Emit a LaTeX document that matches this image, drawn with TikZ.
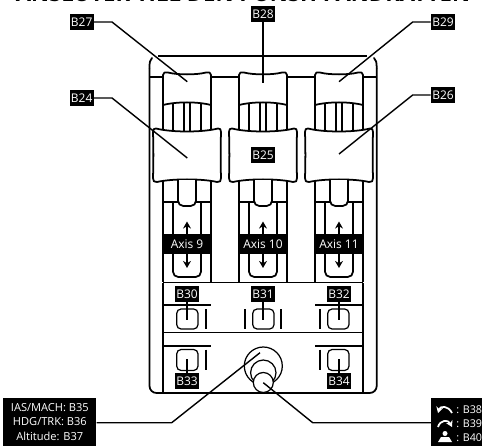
\documentclass[tikz,border=0pt]{standalone}
\usepackage{fontspec}
\setmainfont{Open Sans}
\usetikzlibrary{arrows.meta}
\tikzset{
  tag/.style={fill=black,text=white,font=\fontsize{6.8}{7}\selectfont,minimum width=0.48cm,minimum height=0.32cm,inner sep=0pt},
  axisbar/.style={fill=black,text=white,font=\fontsize{6.8}{7}\selectfont,minimum width=0.96cm,minimum height=0.4cm,inner sep=0pt},
  legend/.style={fill=black,text=white,font=\fontsize{6.3}{8}\selectfont,inner sep=0pt,align=center},
  legendtext/.style={text=white,anchor=west,font=\fontsize{6.1}{8}\selectfont,inner sep=0pt},
  leader/.style={line width=0.8pt},
  outline/.style={line width=1pt,line join=round},
  thin line/.style={line width=0.7pt},
}
\begin{document}
\begin{tikzpicture}[x=0.02cm,y=-0.02cm]
\useasboundingbox (0,0) rectangle (482,446);

% Title, cut by the page
\node (title) [anchor=base,font=\bfseries\fontsize{12.6}{14}\selectfont] at (243,2) {ANSLUTER TILL DEN PUNSH PANDRATTEN};

% Housing
\draw[outline,rounded corners=4pt] (149.5,68) -- (149.5,393) -- (376.7,393) -- (376.7,68);
\draw[outline,line cap=round] (149.5,68) .. controls (149.5,62) and (150,60) .. (152,58);
\draw[outline,line cap=round] (376.7,68) .. controls (376.7,62) and (376,60) .. (374,58);
\draw[outline] (158,56) -- (367,56);
\draw[outline] (150,76.7) -- (376.7,76.7);

% Lower panel
\draw[outline] (163,282.5) -- (163,393);
\draw[outline] (363,282.5) -- (363,393);
\draw[outline] (163,282.5) -- (363,282.5);
\draw[thin line] (163,332.7) -- (363,332.7);

% Sliders
\foreach \cx/\ax in {187/9,263/10,339/11}{
  % Small cap
  \draw[outline,fill=white] (\cx-24,105) -- (\cx-24,75) .. controls (\cx-24,72.5) and (\cx-22,72) .. (\cx-19,72.5) .. controls (\cx-10,75) and (\cx+10,75) .. (\cx+19,72.5) .. controls (\cx+22,72) and (\cx+24,72.5) .. (\cx+24,75) -- (\cx+24,105) .. controls (\cx+10,101.5) and (\cx-10,101.5) .. (\cx-24,105);
  \draw[outline] (\cx-24,105) -- (\cx-24,129) (\cx+24,105) -- (\cx+24,129);
  \draw[outline] (\cx-14,103) -- (\cx-14,130) (\cx+14,103) -- (\cx+14,130);
  \draw[thin line] (\cx-3,102) -- (\cx-3,131) (\cx+3,102) -- (\cx+3,131);
  % Big grip
  \draw[outline,fill=white] (\cx-31,128.5) .. controls (\cx-15,132.5) and (\cx+15,132.5) .. (\cx+31,128.5)
    .. controls (\cx+33,128) and (\cx+34,129.5) .. (\cx+34,132) .. controls (\cx+33.5,150) and (\cx+33.5,160) .. (\cx+34,178)
    .. controls (\cx+34,181) and (\cx+33,182.5) .. (\cx+30,182) .. controls (\cx+15,178.5) and (\cx-15,178.5) .. (\cx-30,182)
    .. controls (\cx-33,182.5) and (\cx-34,181) .. (\cx-34,178) .. controls (\cx-33.5,160) and (\cx-33.5,150) .. (\cx-34,132)
    .. controls (\cx-34,129.5) and (\cx-33,128) .. (\cx-31,128.5) -- cycle;
  % Track
  \draw[outline] (\cx-24,181) -- (\cx-24,282) (\cx+24,181) -- (\cx+24,282);
  \draw[thin line] (\cx-24,202) -- (\cx+24,202);
  \draw[outline,rounded corners=3pt] (\cx-14,202) -- (\cx-14,277) -- (\cx+14,277) -- (\cx+14,202);
  \draw[outline,fill=white,rounded corners=3pt] (\cx-9,180) -- (\cx-9,206) -- (\cx+9,206) -- (\cx+9,180);
  % Axis
  \node (axis\ax) [axisbar] at (\cx,244) {Axis \ax};
  \coordinate (up\ax) at (\cx,221.5);
  \coordinate (down\ax) at (\cx,268);
  \draw[outline,-{Stealth[length=4pt,width=4.5pt]}] (axis\ax.north) -- (up\ax);
  \draw[outline,-{Stealth[length=4pt,width=4.5pt]}] (axis\ax.south) -- (down\ax);
}

% Top row of buttons
\draw[thin line] (163,305) -- (211,305) (315,305) -- (363,305);
\draw[thin line,rounded corners=2.5pt] (176.7,309) rectangle (198,329);
\draw[outline] (205.7,309) -- (205.7,329);
\draw[thin line,rounded corners=2.5pt] (252.7,309) rectangle (274,329);
\draw[outline] (244.7,309) -- (244.7,329) (281.3,309) -- (281.3,329);
\draw[thin line,rounded corners=2.5pt] (327.7,309) rectangle (349,329);
\draw[outline] (320,309) -- (320,329);

% Bottom row of buttons
\draw[thin line] (163,346) -- (211,346) (315,346) -- (363,346);
\draw[thin line,rounded corners=2.5pt] (176.7,349.5) rectangle (198,370.5);
\draw[outline] (205.7,349.5) -- (205.7,370);
\draw[thin line,rounded corners=2.5pt] (327.7,349.5) rectangle (349,370.5);
\draw[outline] (320,349.5) -- (320,370);

% Joystick
\draw[thin line] (263.3,366) circle (19);
\draw[thin line] (263.3,372.7) circle (12.7);
\draw[thin line,fill=white] (263.3,382.5) circle (10);

% Labels
\node (b27) [tag] at (81.7,22) {B27};
\node (b28) [tag] at (263,14) {B28};
\node (b29) [tag] at (443,22) {B29};
\node (b24) [tag] at (81.7,98) {B24};
\node (b26) [tag] at (443,95) {B26};
\node (b25) [tag] at (263,155) {B25};
\node (b30) [tag] at (187,294) {B30};
\node (b31) [tag] at (263,294) {B31};
\node (b32) [tag] at (339,294) {B32};
\node (b33) [tag] at (187,381) {B33};
\node (b34) [tag] at (339,381) {B34};
\node (b35) [legend,minimum width=1.86cm,minimum height=0.96cm,anchor=south west] at (3,446) {IAS/MACH: B35\\[0.3pt]HDG/TRK: B36\\[0.3pt]Altitude: B37};
\node (b38) [legend,minimum width=1.01cm,minimum height=0.96cm,anchor=south east] at (482,446) {};

% Legend of the right box
\node (t38) [legendtext] at (456,410) {: B38};
\node (t39) [legendtext] at (456,424) {: B39};
\node (t40) [legendtext] at (456,438) {: B40};
\draw[white,line width=1pt,{Stealth[length=3.5pt,width=4pt]}-] (438,413) .. controls (440,406) and (448,405) .. (452,413);
\draw[white,line width=1pt,-{Stealth[length=3.5pt,width=4pt]}] (438,427) .. controls (440,420) and (448,419) .. (452,427);
\fill[white] (445,433.5) circle (2.5);
\fill[white] (441,437) -- (449,437) -- (452,442) -- (438,442) -- cycle;

% Leaders
\coordinate (p27) at (187.3,81.7);
\coordinate (p28) at (263,83);
\coordinate (p29) at (339,81.7);
\coordinate (p24) at (187.3,158);
\coordinate (p26) at (339,154);
\coordinate (p30) at (187,320);
\coordinate (p31) at (263,320);
\coordinate (p32) at (339,320);
\coordinate (p33) at (187,359);
\coordinate (p34) at (339,359);
\coordinate (p35) at (260,352.7);
\coordinate (p38) at (263.3,382.7);
\draw[leader] (b27.east) -- (112,22) -- (p27);
\draw[leader] (b28) -- (p28);
\draw[leader] (b29.west) -- (412.7,22) -- (p29);
\draw[leader] (b24.east) -- (112,98) -- (p24);
\draw[leader] (b26.west) -- (412.7,95) -- (p26);
\draw[leader] (b30) -- (p30);
\draw[leader] (b31) -- (p31);
\draw[leader] (b32) -- (p32);
\draw[leader] (b33) -- (p33);
\draw[leader] (b34) -- (p34);
\draw[leader] (b35.east |- 0,422.7) -- (171.7,422.7) -- (p35);
\draw[leader] (b38.west |- 0,422.7) -- (312.7,422.7) -- (p38);

\end{tikzpicture}
\end{document}
